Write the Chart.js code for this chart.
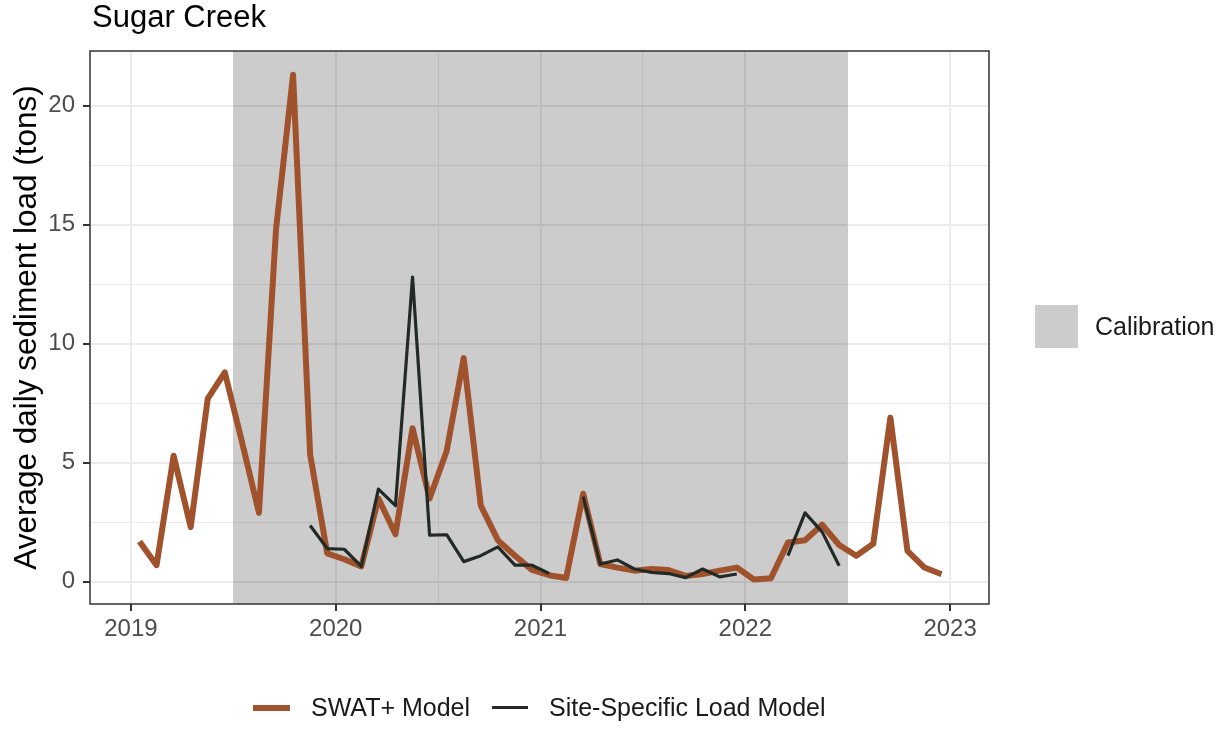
<!DOCTYPE html>
<html lang="en">
<head>
  <meta charset="UTF-8">
  <title>Sugar Creek</title>
  <script src="https://cdn.jsdelivr.net/npm/chart.js"></script>
  <style>
    body { margin: 0; background: #fff; font-family: "Liberation Sans", Arial, sans-serif; }
    .wrap { position: relative; width: 1225px; height: 730px; }
    canvas { position: absolute; left: 0; top: 0; }
    .txt { position: absolute; line-height: 1; white-space: nowrap; color: #000; }
    .key { position: absolute; }
  </style>
</head>
<body>
  <div class="wrap">
    <canvas id="chart" width="1225" height="730"></canvas>
    <div class="txt" style="left:92px; top:1px; font-size:31px;">Sugar Creek</div>
    <div class="key" style="left:1035px; top:305px; width:43px; height:43px; background:#cccccc;"></div>
    <div class="txt" style="left:1095px; top:314px; font-size:25px; color:#1a1a1a;">Calibration</div>
    <div class="key" style="left:253px; top:705px; width:37px; height:6px; background:#a0522d;"></div>
    <div class="txt" style="left:311px; top:695px; font-size:25px; color:#1a1a1a;">SWAT+ Model</div>
    <div class="key" style="left:492px; top:706px; width:36px; height:3px; background:#222a26;"></div>
    <div class="txt" style="left:549px; top:695px; font-size:25px; color:#1a1a1a;">Site-Specific Load Model</div>
  </div>

  <script>
    // monthly values, Jan 2019 - Dec 2022
    const months = [
      "2019-01","2019-02","2019-03","2019-04","2019-05","2019-06","2019-07","2019-08","2019-09","2019-10","2019-11","2019-12",
      "2020-01","2020-02","2020-03","2020-04","2020-05","2020-06","2020-07","2020-08","2020-09","2020-10","2020-11","2020-12",
      "2021-01","2021-02","2021-03","2021-04","2021-05","2021-06","2021-07","2021-08","2021-09","2021-10","2021-11","2021-12",
      "2022-01","2022-02","2022-03","2022-04","2022-05","2022-06","2022-07","2022-08","2022-09","2022-10","2022-11","2022-12"
    ];
    const swatModel = [
      1.7, 0.7, 5.3, 2.3, 7.7, 8.8, 5.9, 2.9, 14.8, 21.3, 5.35, 1.2,
      0.95, 0.65, 3.5, 2.0, 6.45, 3.5, 5.5, 9.4, 3.2, 1.75, 1.1, 0.5,
      0.28, 0.16, 3.7, 0.75, 0.6, 0.47, 0.54, 0.5, 0.25, 0.33, 0.47, 0.6,
      0.1, 0.15, 1.65, 1.75, 2.4, 1.55, 1.1, 1.6, 6.9, 1.3, 0.6, 0.32
    ];
    const siteModel = [
      null, null, null, null, null, null, null, null, null, null, 2.37, 1.4,
      1.37, 0.65, 3.9, 3.2, 12.8, 1.96, 1.98, 0.85, 1.1, 1.47, 0.7, 0.7,
      0.35, null, 3.58, 0.75, 0.92, 0.54, 0.4, 0.35, 0.18, 0.54, 0.21, 0.33,
      null, null, 1.1, 2.9, 2.1, 0.68, null, null, null, null, null, null
    ];
    const calibration = [2019.5, 2022.5];
    const xTicks = [2019, 2019.5, 2020, 2020.5, 2021, 2021.5, 2022, 2022.5, 2023];
    const yTicks = [0, 2.5, 5, 7.5, 10, 12.5, 15, 17.5, 20];

    // mid-month as decimal year
    function toYear(m) {
      const [y, mo] = m.split("-").map(Number);
      return y + (mo - 0.5) / 12;
    }
    const toPoints = vals => months.map((m, i) => ({ x: toYear(m), y: vals[i] }));

    const calibrationBand = {
      id: "calibrationBand",
      beforeDatasetsDraw(chart) {
        const { ctx, chartArea, scales } = chart;
        const x0 = scales.x.getPixelForValue(calibration[0]);
        const x1 = scales.x.getPixelForValue(calibration[1]);
        ctx.save();
        ctx.fillStyle = "rgba(0,0,0,0.2)";
        ctx.fillRect(x0, chartArea.top, x1 - x0, chartArea.bottom - chartArea.top);
        ctx.restore();
      }
    };

    const panelBorder = {
      id: "panelBorder",
      afterDatasetsDraw(chart) {
        const { ctx, chartArea } = chart;
        ctx.save();
        ctx.strokeStyle = "#333333";
        ctx.lineWidth = 1.5;
        ctx.strokeRect(chartArea.left, chartArea.top, chartArea.right - chartArea.left, chartArea.bottom - chartArea.top);
        ctx.restore();
      }
    };

    const tickFont = { family: "'Liberation Sans', Arial, sans-serif", size: 24 };
    const isMajorX = v => Number.isInteger(v);
    const isMajorY = v => v % 5 === 0;

    new Chart(document.getElementById("chart").getContext("2d"), {
      type: "line",
      data: {
        datasets: [
          {
            label: "Site-Specific Load Model",
            data: toPoints(siteModel),
            borderColor: "#222a26",
            borderWidth: 3.2,
            pointRadius: 0,
            spanGaps: false,
            borderJoinStyle: "round",
            tension: 0
          },
          {
            label: "SWAT+ Model",
            data: toPoints(swatModel),
            borderColor: "#a0522d",
            borderWidth: 6,
            pointRadius: 0,
            borderJoinStyle: "round",
            tension: 0
          }
        ]
      },
      options: {
        responsive: false,
        animation: false,
        devicePixelRatio: 1,
        layout: { padding: { left: 0, top: 51, right: 236, bottom: 0 } },
        plugins: { legend: { display: false }, tooltip: { enabled: false } },
        scales: {
          x: {
            type: "linear",
            min: 2018.80,
            max: 2023.19,
            afterBuildTicks: scale => { scale.ticks = xTicks.map(v => ({ value: v })); },
            afterFit: scale => { scale.height = 126; },
            ticks: {
              autoSkip: false,
              maxRotation: 0,
              padding: 4,
              color: "#4d4d4d",
              font: tickFont,
              callback: v => isMajorX(v) ? String(v) : ""
            },
            grid: {
              color: "#ebebeb",
              lineWidth: c => isMajorX(c.tick.value) ? 2 : 1,
              tickColor: c => isMajorX(c.tick.value) ? "#333333" : "rgba(0,0,0,0)",
              tickLength: 7
            },
            border: { display: false }
          },
          y: {
            type: "linear",
            min: -0.93,
            max: 22.3,
            afterBuildTicks: scale => { scale.ticks = yTicks.map(v => ({ value: v })); },
            afterFit: scale => { scale.width = 90; },
            ticks: {
              padding: 8,
              color: "#4d4d4d",
              font: tickFont,
              callback: v => isMajorY(v) ? String(v) : ""
            },
            grid: {
              color: "#ebebeb",
              lineWidth: c => isMajorY(c.tick.value) ? 2 : 1,
              tickColor: c => isMajorY(c.tick.value) ? "#333333" : "rgba(0,0,0,0)",
              tickLength: 7
            },
            border: { display: false },
            title: {
              display: true,
              text: "Average daily sediment load (tons)",
              color: "#000",
              font: { family: "'Liberation Sans', Arial, sans-serif", size: 31.5 },
              padding: { top: 8, bottom: 0 }
            }
          }
        }
      },
      plugins: [calibrationBand, panelBorder]
    });
  </script>
</body>
</html>
